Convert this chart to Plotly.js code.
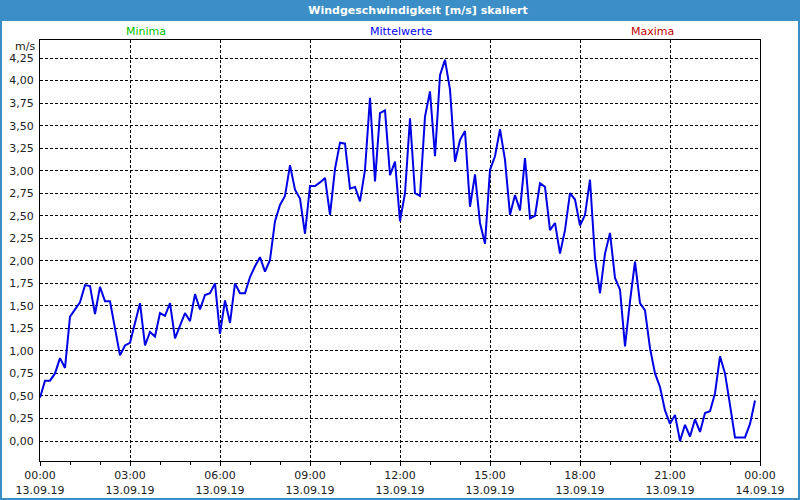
<!DOCTYPE html>
<html>
<head>
<meta charset="utf-8">
<script src="https://cdn.plot.ly/plotly-3.0.1.min.js"></script>
<style>
  html, body { margin: 0; padding: 0; background: #ffffff; }
  #chart { width: 800px; height: 500px; }
</style>
</head>
<body>
<div id="chart"></div>
<script>
// ---- data ----
const chartTitle = "Windgeschwindigkeit [m/s] skaliert";
const seriesNames = ["Minima", "Mittelwerte", "Maxima"];
const seriesColors = ["#00c000", "#0000ff", "#c00000"];
const startTime = "2019-09-13 00:00";
const endTime = "2019-09-14 00:00";
const stepMinutes = 10;
// Mittelwerte, 10-minute values from 00:00 to 23:50
const mittelwerte = [
  0.48, 0.67, 0.67, 0.75, 0.92, 0.81, 1.38, 1.46, 1.54, 1.73, 1.72, 1.41,
  1.71, 1.55, 1.55, 1.25, 0.95, 1.06, 1.09, 1.31, 1.53, 1.06, 1.21, 1.16,
  1.42, 1.39, 1.53, 1.14, 1.27, 1.42, 1.33, 1.63, 1.46, 1.62, 1.64, 1.75,
  1.19, 1.56, 1.31, 1.75, 1.64, 1.64, 1.82, 1.94, 2.04, 1.88, 2.01, 2.44,
  2.62, 2.72, 3.06, 2.79, 2.69, 2.30, 2.83, 2.83, 2.87, 2.92, 2.51, 3.02,
  3.31, 3.30, 2.80, 2.82, 2.66, 3.01, 3.81, 2.88, 3.64, 3.67, 2.95, 3.10,
  2.44, 2.75, 3.58, 2.75, 2.72, 3.60, 3.88, 3.16, 4.06, 4.23, 3.90, 3.10,
  3.34, 3.44, 2.60, 2.96, 2.42, 2.19, 3.01, 3.16, 3.46, 3.12, 2.51, 2.73,
  2.56, 3.14, 2.47, 2.50, 2.86, 2.82, 2.34, 2.42, 2.08, 2.34, 2.75, 2.68,
  2.39, 2.51, 2.90, 2.03, 1.64, 2.08, 2.31, 1.81, 1.68, 1.05, 1.55, 1.99,
  1.53, 1.45, 1.03, 0.75, 0.60, 0.34, 0.19, 0.29, 0.00, 0.18, 0.05, 0.24,
  0.10, 0.31, 0.33, 0.53, 0.94, 0.75, 0.40, 0.04, 0.04, 0.04, 0.19, 0.45
];
const yTickVals = [0, 0.25, 0.5, 0.75, 1, 1.25, 1.5, 1.75, 2, 2.25, 2.5, 2.75, 3, 3.25, 3.5, 3.75, 4, 4.25];
const yTickText = ["0,00", "0,25", "0,50", "0,75", "1,00", "1,25", "1,50", "1,75", "2,00", "2,25", "2,50", "2,75", "3,00", "3,25", "3,50", "3,75", "4,00", "4,25"];
const yUnit = "m/s";

// ---- layout geometry (pixels) ----
const W = 800, H = 500;
const mL = 40, mR = 40, mT = 40, mB = 39;
const plotW = W - mL - mR, plotH = H - mT - mB;
const px2x = p => (p - mL) / plotW;
const py2y = p => (H - mB - p) / plotH;
const frameBlue = "#3c8ec6";
const font = "DejaVu Sans, Verdana, sans-serif";

const trace = {
  type: "scatter",
  mode: "lines",
  x0: startTime,
  dx: stepMinutes * 60 * 1000,
  y: mittelwerte,
  line: { color: "#0000e6", width: 2 },
  hoverinfo: "x+y",
  showlegend: false
};

const labelX = [146, 401, 652];
const annotations = seriesNames.map((n, i) => ({
  text: n, xref: "paper", yref: "paper",
  x: px2x(labelX[i]), y: py2y(32), xanchor: "center", yanchor: "middle",
  showarrow: false, font: { family: font, size: 11, color: seriesColors[i] }
}));
annotations.push({
  text: yUnit, xref: "paper", yref: "paper",
  x: px2x(37), y: py2y(46), xanchor: "right", yanchor: "middle",
  showarrow: false, font: { family: font, size: 11, color: "#222" }
});

const layout = {
  width: W, height: H,
  margin: { l: mL, r: mR, t: mT, b: mB, pad: 0 },
  paper_bgcolor: "#ffffff",
  plot_bgcolor: "#ffffff",
  title: {
    text: chartTitle,
    font: { family: font, size: 11, color: "#ffffff", weight: "bold" },
    xref: "paper", x: px2x(418), xanchor: "center",
    yref: "container", y: 1 - 10.5 / H, yanchor: "middle"
  },
  xaxis: {
    type: "date",
    range: [startTime, endTime],
    dtick: 3 * 3600 * 1000,
    tick0: startTime,
    tickformat: "%H:%M<br>%d.%m.%y",
    ticks: "outside", ticklen: 4, tickcolor: "#000", tickwidth: 1,
    minor: { dtick: 3600 * 1000, ticks: "outside", ticklen: 3, tickcolor: "#000", showgrid: false },
    showgrid: true, gridcolor: "#000", gridwidth: 1, griddash: "3px,2px",
    showline: true, linecolor: "#000", linewidth: 1, mirror: true,
    zeroline: false,
    tickfont: { family: font, size: 11, color: "#222" },
    fixedrange: true
  },
  yaxis: {
    range: [0, 1],
    tickvals: yTickVals, ticktext: yTickText,
    ticks: "", ticklabelstandoff: 3,
    showgrid: true, gridcolor: "#000", gridwidth: 1, griddash: "3px,2px",
    showline: true, linecolor: "#000", linewidth: 1, mirror: true,
    zeroline: false,
    tickfont: { family: font, size: 11, color: "#222" },
    fixedrange: true
  },
  shapes: [
    { type: "rect", xref: "paper", yref: "paper", layer: "below",
      x0: px2x(0), x1: px2x(W), y0: py2y(21), y1: py2y(0),
      fillcolor: frameBlue, line: { width: 0 } },
    { type: "rect", xref: "paper", yref: "paper", layer: "above",
      x0: px2x(1), x1: px2x(W - 1), y0: py2y(H - 1), y1: py2y(1),
      fillcolor: "rgba(0,0,0,0)", line: { color: frameBlue, width: 2 } }
  ],
  annotations: annotations,
  showlegend: false
};
// y range from pixel geometry: 0 at y=441, 90.1 px per unit
layout.yaxis.range = [-(H - mB - 441) / 90.1, (441 - mT) / 90.1];

Plotly.newPlot("chart", [trace], layout, { displayModeBar: false, staticPlot: true });
</script>
</body>
</html>
